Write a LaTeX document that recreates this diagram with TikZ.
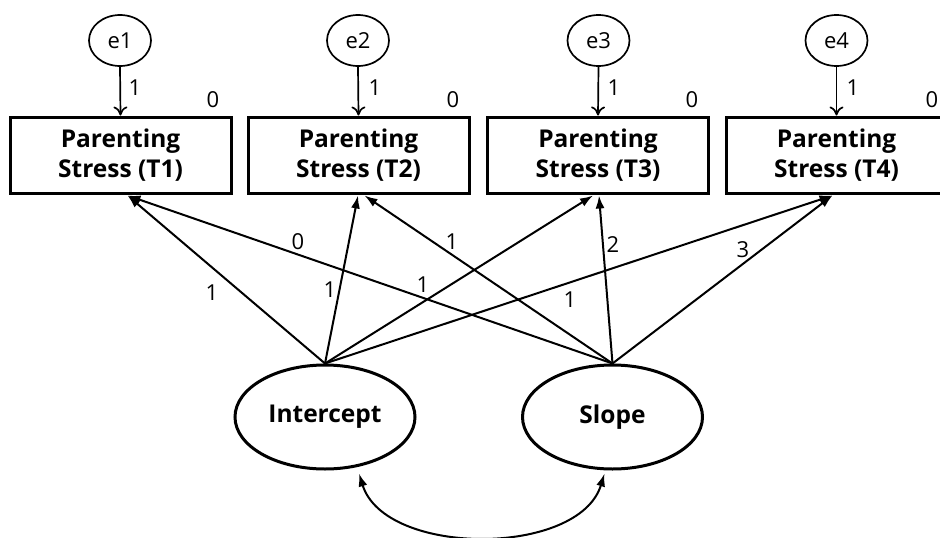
\documentclass[tikz,border=0pt]{standalone}
\usepackage{fontspec}
\setmainfont{Open Sans}
\usetikzlibrary{arrows.meta,calc,shapes.geometric}
\begin{document}
\begin{tikzpicture}[x=1pt,y=-1pt,
  obs/.style={draw,line width=3pt,minimum width=221pt,minimum height=76pt,
    inner sep=0pt,align=center,font=\bfseries\fontsize{24.5}{30}\selectfont},
  latent/.style={draw,ellipse,line width=3pt,minimum width=180pt,minimum height=104pt,
    inner sep=0pt,font=\bfseries\fontsize{24.5}{28}\selectfont},
  err/.style={draw,ellipse,line width=1.7pt,minimum width=62pt,minimum height=51pt,
    inner sep=0pt,font=\fontsize{22}{26}\selectfont},
  lbl/.style={font=\fontsize{22}{26}\selectfont,inner sep=0pt},
  path/.style={line width=2pt,-{Latex[length=13pt,width=9pt]}},
  errpath/.style={line width=1.7pt,-{To[length=9pt,width=14pt,line width=1.7pt]}},
  cov/.style={line width=2pt,{Latex[length=13pt,width=9pt]}-{Latex[length=13pt,width=9pt]}}]
\useasboundingbox (0,0) rectangle (940,538);
\clip (0,0) rectangle (940,538);

% observed indicators
\node[obs] (T1) at (120.5,155) {Parenting\\Stress (T1)};
\node[obs] (T2) at (358.5,155) {Parenting\\Stress (T2)};
\node[obs] (T3) at (598,155) {Parenting\\Stress (T3)};
\node[obs] (T4) at (836.5,155) {Parenting\\Stress (T4)};

% residual terms
\node[err] (e1) at (120,40.5) {e1};
\node[err] (e2) at (358,40.5) {e2};
\node[err] (e3) at (598.5,40.5) {e3};
\node[err] (e4) at (836.5,40.5) {e4};

\foreach \i in {1,2,3,4} {
  \draw[errpath] (e\i.south) -- (T\i.north);
}

% fixed residual loadings and intercepts
\node[lbl] (w1) at (135,88) {1};
\node[lbl] (w2) at (375,88) {1};
\node[lbl] (w3) at (614,88) {1};
\node[lbl] (w4) at (853,88) {1};
\node[lbl] (m1) at (213,100) {0};
\node[lbl] (m2) at (453,100) {0};
\node[lbl] (m3) at (692,100) {0};
\node[lbl] (m4) at (932,100) {0};

% growth factors
\node[latent] (I) at (325,417) {Intercept};
\node[latent] (S) at (612.5,417) {Slope};

% factor loadings
\draw[path] (I.north) -- ($(T1.south)+(7,1)$);
\draw[path] (I.north) -- ($(T2.south)+(-0.5,1)$);
\draw[path] (I.north) -- ($(T3.south)+(-5,1)$);
\draw[path] (I.north) -- ($(T4.south)+(-4,1)$);
\draw[path] (S.north) -- ($(T1.south)+(7,1)$);
\draw[path] (S.north) -- ($(T2.south)+(6,1)$);
\draw[path] (S.north) -- ($(T3.south)+(1,1)$);
\draw[path] (S.north) -- ($(T4.south)+(-4,1)$);

\node[lbl] (li1) at (212,293) {1};
\node[lbl] (li2) at (330,290) {1};
\node[lbl] (li3) at (423,285) {1};
\node[lbl] (li4) at (570,300) {1};
\node[lbl] (ls1) at (298,242) {0};
\node[lbl] (ls2) at (452,242) {1};
\node[lbl] (ls3) at (613,245) {2};
\node[lbl] (ls4) at (743,250) {3};

% factor covariance
\draw[cov] ($(I.south)+(34,3)$) .. controls (385,557) and (579,557) .. ($(S.south)+(-8,3)$);
\end{tikzpicture}
\end{document}
